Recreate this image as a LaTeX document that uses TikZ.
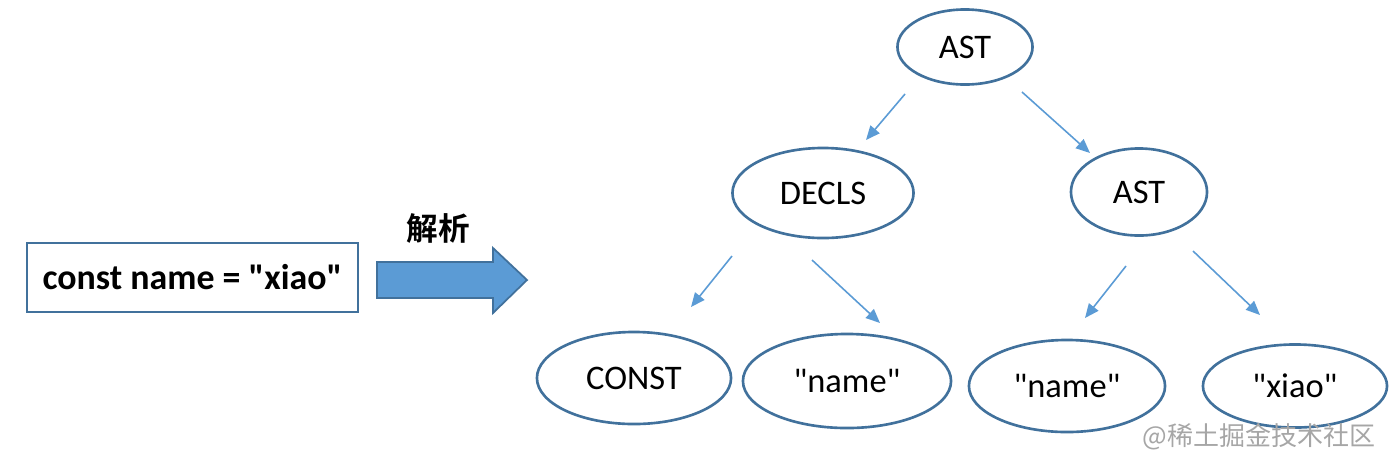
\documentclass[tikz,border=0pt]{standalone}
\usepackage{fontspec}
\setmainfont{Carlito}
\newfontfamily\cjk{Noto Sans CJK SC}
\newfontfamily\cjkb{Noto Sans CJK SC Bold}
\usetikzlibrary{shapes.geometric,arrows.meta}
\definecolor{ebord}{HTML}{41719C}
\definecolor{alight}{HTML}{5B9BD5}
\newcommand{\dq}{\textquotedbl}
\tikzset{
  ell/.style={ellipse,draw=ebord,line width=0.75pt,inner sep=0pt,font=\fontsize{9.8}{12}\selectfont},
  conn/.style={draw=alight,line width=0.45pt,-{Triangle[length=4pt,width=3.4pt]}},
}
\begin{document}
\begin{tikzpicture}[x=0.01cm,y=-0.01cm]
\useasboundingbox (0,0) rectangle (1400,460);
% source box
\node[draw=ebord,line width=0.7pt,minimum width=3.31cm,minimum height=0.69cm,
  font=\fontsize{10.2}{12}\selectfont\bfseries] (src) at (192.5,277.5) {const name = \dq xiao\dq};
% block arrow
\fill[alight,draw=ebord,line width=0.5pt] (377,262) -- (493,262) -- (493,248) -- (527,280) -- (493,313) -- (493,298) -- (377,298) -- cycle;
\node[font=\cjkb\fontsize{9}{11}\selectfont] (lbl) at (438,229) {解析};
% tree nodes
\node[ell,minimum width=1.35cm,minimum height=0.75cm] (ast) at (965,47) {AST};
\node[ell,minimum width=1.81cm,minimum height=0.90cm] (decls) at (823,193) {DECLS};
\node[ell,minimum width=1.36cm,minimum height=0.87cm] (ast2) at (1139,192) {AST};
\node[ell,minimum width=1.94cm,minimum height=0.92cm] (const) at (634,378) {CONST};
\node[ell,minimum width=2.08cm,minimum height=0.94cm] (name1) at (847,381) {\dq name\dq};
\node[ell,minimum width=1.96cm,minimum height=0.92cm] (name2) at (1067,386) {\dq name\dq};
\node[ell,minimum width=1.84cm,minimum height=0.83cm] (xiao) at (1295,386) {\dq xiao\dq};
% connector end points
\coordinate (a1) at (905,94);   \coordinate (b1) at (866,140);
\coordinate (a2) at (1022,92);  \coordinate (b2) at (1090,153);
\coordinate (a3) at (732,256);  \coordinate (b3) at (691,307);
\coordinate (a4) at (812,260);  \coordinate (b4) at (880,323);
\coordinate (a5) at (1126,266); \coordinate (b5) at (1085,318);
\coordinate (a6) at (1193,251); \coordinate (b6) at (1260,315);
\draw[conn] (a1) -- (b1);
\draw[conn] (a2) -- (b2);
\draw[conn] (a3) -- (b3);
\draw[conn] (a4) -- (b4);
\draw[conn] (a5) -- (b5);
\draw[conn] (a6) -- (b6);
% watermark
\node[anchor=east,text=black!35,font=\cjk\fontsize{7.4}{9}\selectfont] (wm) at (1388,437) {@稀土掘金技术社区};
\end{tikzpicture}
\end{document}
